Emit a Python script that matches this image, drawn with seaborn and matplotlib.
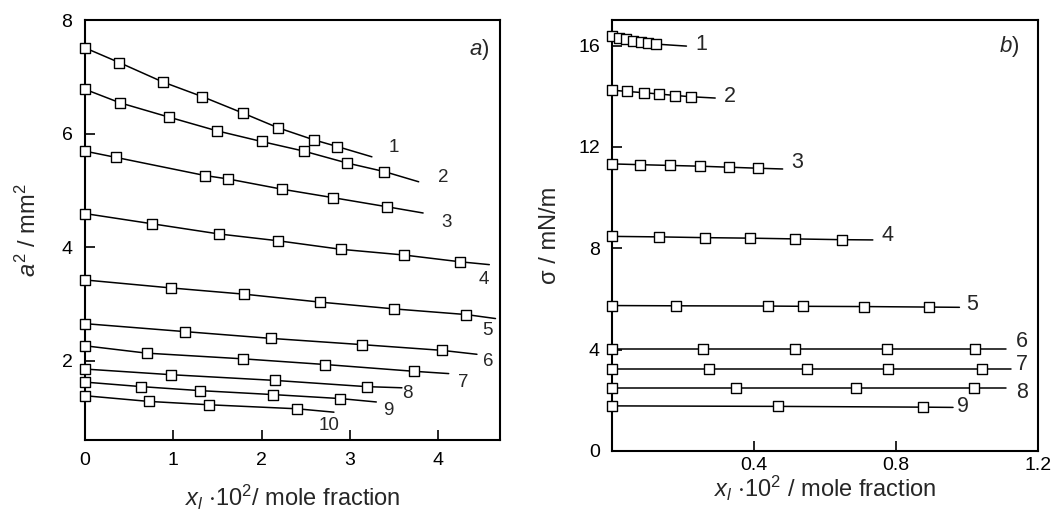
import matplotlib
matplotlib.use('Agg')
import matplotlib.pyplot as plt
import seaborn as sns

# ---- panel a) : a^2 / mm^2 vs x*10^2 ----
a_x = [
    [0, 0.39, 0.88, 1.33, 1.79, 2.19, 2.59, 2.86],
    [0, 0.40, 0.95, 1.49, 2.00, 2.48, 2.97, 3.39],
    [0, 0.35, 1.36, 1.62, 2.23, 2.81, 3.42],
    [0, 0.76, 1.52, 2.19, 2.90, 3.61, 4.25],
    [0, 0.97, 1.80, 2.66, 3.50, 4.32],
    [0, 1.13, 2.11, 3.14, 4.04],
    [0, 0.70, 1.79, 2.72, 3.73],
    [0, 0.98, 2.15, 3.19],
    [0, 0.64, 1.30, 2.13, 2.89],
    [0, 0.72, 1.41, 2.40],
]
a_y = [
    [7.51, 7.25, 6.91, 6.65, 6.36, 6.10, 5.89, 5.77],
    [6.78, 6.54, 6.29, 6.05, 5.86, 5.69, 5.48, 5.33],
    [5.69, 5.58, 5.26, 5.20, 5.02, 4.87, 4.71],
    [4.59, 4.41, 4.23, 4.11, 3.96, 3.86, 3.74],
    [3.42, 3.28, 3.17, 3.03, 2.91, 2.81],
    [2.65, 2.51, 2.39, 2.28, 2.18],
    [2.26, 2.13, 2.03, 1.93, 1.81],
    [1.85, 1.75, 1.65, 1.54],
    [1.62, 1.54, 1.47, 1.40, 1.33],
    [1.38, 1.28, 1.22, 1.15],
]
# where each drawn line stops
a_end_x = [3.25, 3.78, 3.83, 4.58, 4.65, 4.44, 4.12, 3.59, 3.30, 2.82]
a_end_y = [5.59, 5.15, 4.60, 3.69, 2.74, 2.11, 1.77, 1.52, 1.27, 1.09]
# curve number labels
a_lab = ['1', '2', '3', '4', '5', '6', '7', '8', '9', '10']
a_lab_x = [3.50, 4.06, 4.09, 4.52, 4.56, 4.57, 4.29, 3.65, 3.44, 2.76]
a_lab_y = [5.75, 5.22, 4.44, 3.42, 2.53, 1.98, 1.61, 1.42, 1.12, 0.85]

# ---- panel b) : sigma / mN/m vs x*10^2 ----
b_x = [
    [0, 0.018, 0.039, 0.059, 0.080, 0.100, 0.122],
    [0, 0.042, 0.089, 0.131, 0.178, 0.223],
    [0, 0.079, 0.162, 0.247, 0.329, 0.410],
    [0, 0.131, 0.261, 0.387, 0.516, 0.646],
    [0, 0.180, 0.438, 0.537, 0.710, 0.891],
    [0, 0.256, 0.514, 0.775, 1.022],
    [0, 0.273, 0.549, 0.776, 1.041],
    [0, 0.348, 0.688, 1.020],
    [0, 0.468, 0.875],
]
b_y = [
    [16.37, 16.31, 16.25, 16.20, 16.15, 16.10, 16.06],
    [14.24, 14.19, 14.14, 14.09, 14.03, 13.98],
    [11.33, 11.30, 11.27, 11.24, 11.20, 11.16],
    [8.47, 8.45, 8.42, 8.40, 8.37, 8.34],
    [5.74, 5.73, 5.72, 5.71, 5.70, 5.68],
    [4.03, 4.03, 4.03, 4.03, 4.03],
    [3.24, 3.24, 3.24, 3.24, 3.24],
    [2.50, 2.50, 2.50, 2.50],
    [1.78, 1.76, 1.73],
]
b_end_x = [0.209, 0.290, 0.480, 0.734, 0.978, 1.109, 1.123, 1.109, 0.960]
b_end_y = [15.98, 13.93, 11.13, 8.33, 5.67, 4.03, 3.24, 2.50, 1.72]
b_lab = ['1', '2', '3', '4', '5', '6', '7', '8', '9']
b_lab_x = [0.252, 0.332, 0.521, 0.774, 1.013, 1.155, 1.155, 1.155, 0.989]
b_lab_y = [16.05, 14.00, 11.40, 8.50, 5.77, 4.32, 3.40, 2.29, 1.75]

sns.set_style('ticks')
plt.rcParams['font.family'] = ['Liberation Sans', 'DejaVu Sans']
plt.rcParams['mathtext.fontset'] = 'custom'
plt.rcParams['mathtext.rm'] = 'Liberation Sans'
plt.rcParams['mathtext.it'] = 'Liberation Sans:italic'
plt.rcParams['mathtext.default'] = 'regular'

fig = plt.figure(figsize=(10.58, 5.14), dpi=100)
ax1 = fig.add_axes([0.0803, 0.144, 0.3922, 0.817])
ax2 = fig.add_axes([0.5787, 0.1226, 0.4026, 0.838])


def draw(ax, xs, ys, ex, ey, labs, lx, ly, fs):
    for i in range(len(xs)):
        sns.lineplot(x=xs[i] + [ex[i]], y=ys[i] + [ey[i]], ax=ax, color='black',
                     lw=1.1, sort=False, zorder=2)
        sns.scatterplot(x=xs[i], y=ys[i], ax=ax, marker='s', s=42,
                        facecolor='white', edgecolor='black', linewidth=1.0,
                        zorder=3, clip_on=False)
        ax.text(lx[i], ly[i], labs[i], fontsize=fs, ha='center', va='center')


draw(ax1, a_x, a_y, a_end_x, a_end_y, a_lab, a_lab_x, a_lab_y, 13.5)
draw(ax2, b_x, b_y, b_end_x, b_end_y, b_lab, b_lab_x, b_lab_y, 15.5)

ax1.set_xlim(0, 4.7)
ax1.set_ylim(0.6, 8)
ax1.set_xticks([0, 1, 2, 3, 4])
ax1.set_yticks([2, 4, 6, 8])
ax1.set_xlabel(r'$\mathit{x_l}$ $\cdot$10$^2$/ mole fraction', fontsize=17, labelpad=10)
ax1.set_ylabel(r'$\mathit{a}^2$ / mm$^2$', fontsize=17, labelpad=15)
ax1.text(0.975, 0.93, r'$\mathit{a}$)', transform=ax1.transAxes, fontsize=16,
         ha='right', va='center')

ax2.set_xlim(0, 1.2)
ax2.set_ylim(0, 17)
ax2.set_xticks([0.4, 0.8, 1.2])
ax2.set_yticks([0, 4, 8, 12, 16])
ax2.set_xlabel(r'$\mathit{x_l}$ $\cdot$10$^2$ / mole fraction', fontsize=17, labelpad=0)
ax2.set_ylabel('σ / mN/m', fontsize=17, labelpad=12)
ax2.text(0.955, 0.938, r'$\mathit{b}$)', transform=ax2.transAxes, fontsize=16,
         ha='right', va='center')

for ax in (ax1, ax2):
    ax.tick_params(direction='in', length=7, width=1.2, labelsize=14, pad=9,
                   color='black', labelcolor='black')
    for sp in ax.spines.values():
        sp.set_visible(True)
        sp.set_linewidth(1.5)
        sp.set_color('black')
ax2.tick_params(axis='x', pad=4)

fig.savefig('out.png', dpi=100)
